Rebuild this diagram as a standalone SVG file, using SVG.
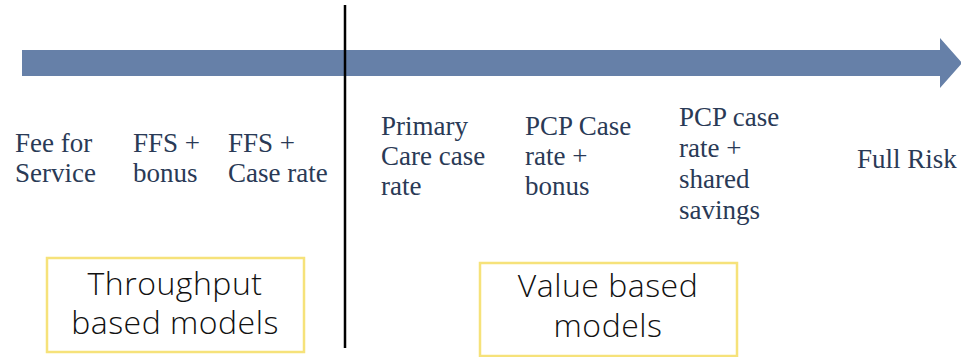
<svg xmlns="http://www.w3.org/2000/svg" width="961" height="357" viewBox="0 0 961 357">
<style>
.lbl{font-family:"Liberation Serif","Times New Roman",serif;font-size:27px;fill:#2a3a56}
.box{fill:#ffffff;stroke:#f6e27a;stroke-width:2.5}
.bt{font-family:"Open Sans","Liberation Sans",sans-serif;font-weight:300;font-size:32px;letter-spacing:0.5px;fill:#111111;text-anchor:middle}
</style>
<rect width="961" height="357" fill="#ffffff"/>
<g id="connectors">
<path id="timeline" d="M22,50 H940 V38 L962,63 L940,88 V76 H22 Z" fill="#6680a8"/>
<line id="divider" x1="345" y1="5" x2="345" y2="348" stroke="#000000" stroke-width="2.5"/>
</g>
<g id="fee-for-service"><text class="lbl"><tspan x="15" y="152">Fee for</tspan><tspan x="15" y="182">Service</tspan></text></g>
<g id="ffs-bonus"><text class="lbl"><tspan x="133" y="152">FFS +</tspan><tspan x="133" y="182">bonus</tspan></text></g>
<g id="ffs-case-rate"><text class="lbl"><tspan x="228" y="152">FFS +</tspan><tspan x="228" y="182">Case rate</tspan></text></g>
<g id="primary-care"><text class="lbl"><tspan x="381" y="135">Primary</tspan><tspan x="381" y="165">Care case</tspan><tspan x="381" y="195">rate</tspan></text></g>
<g id="pcp-bonus"><text class="lbl"><tspan x="525" y="135">PCP Case</tspan><tspan x="525" y="165">rate +</tspan><tspan x="525" y="195">bonus</tspan></text></g>
<g id="pcp-shared"><text class="lbl"><tspan x="679" y="126">PCP case</tspan><tspan x="679" y="157">rate +</tspan><tspan x="679" y="188">shared</tspan><tspan x="679" y="219">savings</tspan></text></g>
<g id="full-risk"><text class="lbl" x="857" y="168">Full Risk</text></g>
<g id="throughput-box"><rect class="box" x="47" y="258" width="257" height="94"/><text class="bt"><tspan x="175" y="295">Throughput</tspan><tspan x="175" y="334">based models</tspan></text></g>
<g id="value-box"><rect class="box" x="480" y="263" width="257" height="93"/><text class="bt"><tspan x="608" y="297">Value based</tspan><tspan x="608" y="337">models</tspan></text></g>
</svg>
